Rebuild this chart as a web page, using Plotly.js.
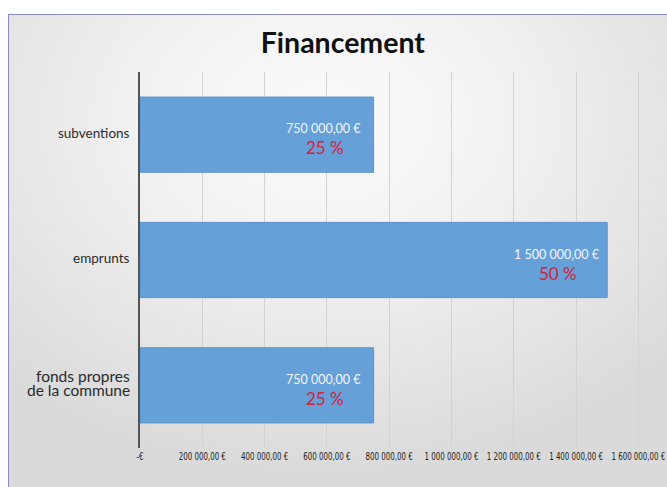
<!DOCTYPE html>
<html>
<head>
<meta charset="utf-8">
<script src="https://cdn.plot.ly/plotly-3.0.1.min.js"></script>
<style>
  html, body { margin: 0; padding: 0; width: 667px; height: 487px; overflow: hidden; background: #ffffff; }
  #bg { position: absolute; left: 8px; top: 14px; width: 659px; height: 473px;
        border-top: 1px solid #8a8ac4; border-left: 1px solid #8a8ac4;
        background: radial-gradient(ellipse 70% 75% at 48% 22%, #fbfbfb 0%, #f0f0f0 45%, #dadada 100%); }
  #chart { position: absolute; left: 0; top: 0; width: 667px; height: 487px; }
</style>
</head>
<body>
<div id="bg"></div>
<div id="chart"></div>
<script>
const categories = ['fonds propres<br>de la commune', 'emprunts', 'subventions'];
const values = [750000, 1500000, 750000];
const valueLabels = ['750 000,00 €', '1 500 000,00 €', '750 000,00 €'];
const percentLabels = ['25 %', '50 %', '25 %'];
const tickVals = [0, 200000, 400000, 600000, 800000, 1000000, 1200000, 1400000, 1600000];
const tickText = ['-€', '200 000,00 €', '400 000,00 €', '600 000,00 €', '800 000,00 €',
                  '1 000 000,00 €', '1 200 000,00 €', '1 400 000,00 €', '1 600 000,00 €'];

const trace = {
  type: 'bar',
  orientation: 'h',
  x: values,
  y: categories,
  width: 0.6,
  marker: { color: '#66a0d8', line: { color: '#5b93cc', width: 1 } },
  hoverinfo: 'none'
};

const annotations = [];
categories.forEach((c, i) => {
  // category labels, one annotation per line for tight line spacing
  const lines = c.split('<br>');
  const multi = lines.length > 1;
  lines.forEach((ln, k) => {
    annotations.push({
      x: 0, y: c, xref: 'x', yref: 'y', text: ln, showarrow: false,
      xanchor: 'right', yanchor: 'middle', xshift: -8,
      yshift: (lines.length - 1) * 7 - k * 14 + 2,
      font: { family: 'Lato, "Noto Sans", sans-serif', size: multi ? 15.5 : 13.5, color: '#2a2a2a' }
    });
  });
  annotations.push({
    x: values[i], y: c, xref: 'x', yref: 'y', text: valueLabels[i],
    showarrow: false, xanchor: 'center', yanchor: 'middle', xshift: -50, yshift: 6,
    font: { family: 'Lato, "Noto Sans", sans-serif', size: 12.5, color: '#f2f6fb' }
  });
  annotations.push({
    x: values[i], y: c, xref: 'x', yref: 'y', text: percentLabels[i],
    showarrow: false, xanchor: 'center', yanchor: 'middle', xshift: -49, yshift: -13,
    font: { family: 'Lato, "Noto Sans", sans-serif', size: 17, color: '#d42038' }
  });
});

const layout = {
  width: 667, height: 487,
  paper_bgcolor: 'rgba(0,0,0,0)',
  plot_bgcolor: 'rgba(0,0,0,0)',
  margin: { l: 140, r: 0, t: 72, b: 39 },
  title: { text: '<b>Financement</b>', x: 0.514, xanchor: 'center', y: 0.912, yanchor: 'middle',
           font: { family: 'Lato, "Noto Sans", sans-serif', size: 28.5, weight: 900, color: '#111111' } },
  showlegend: false,
  bargap: 0.4,
  xaxis: {
    range: [0, 1692000],
    tickvals: tickVals, ticktext: tickText, tickangle: 0,
    ticklabeloverflow: 'allow', ticklabelstandoff: 1,
    showgrid: true, gridcolor: '#d2d2d2', gridwidth: 1,
    zeroline: false, showline: false, ticks: '',
    tickfont: { family: '"DejaVu Sans Condensed", "Liberation Sans Narrow", sans-serif', size: 9.8, color: '#222222' },
    fixedrange: true
  },
  yaxis: {
    type: 'category',
    range: [-0.5, 2.5],
    showgrid: false, zeroline: false,
    showline: true, linecolor: '#555555', linewidth: 2,
    ticks: '', showticklabels: false,
    fixedrange: true
  },
  annotations: annotations
};

Plotly.newPlot('chart', [trace], layout, { displayModeBar: false, staticPlot: true }).then(gd => {
  // narrow the x tick labels horizontally (condensed look), keeping them as text
  gd.querySelectorAll('.xtick text').forEach(t => {
    const len = t.getComputedTextLength();
    t.setAttribute('textLength', (len * 0.8).toFixed(1));
    t.setAttribute('lengthAdjust', 'spacingAndGlyphs');
  });
});
</script>
</body>
</html>
